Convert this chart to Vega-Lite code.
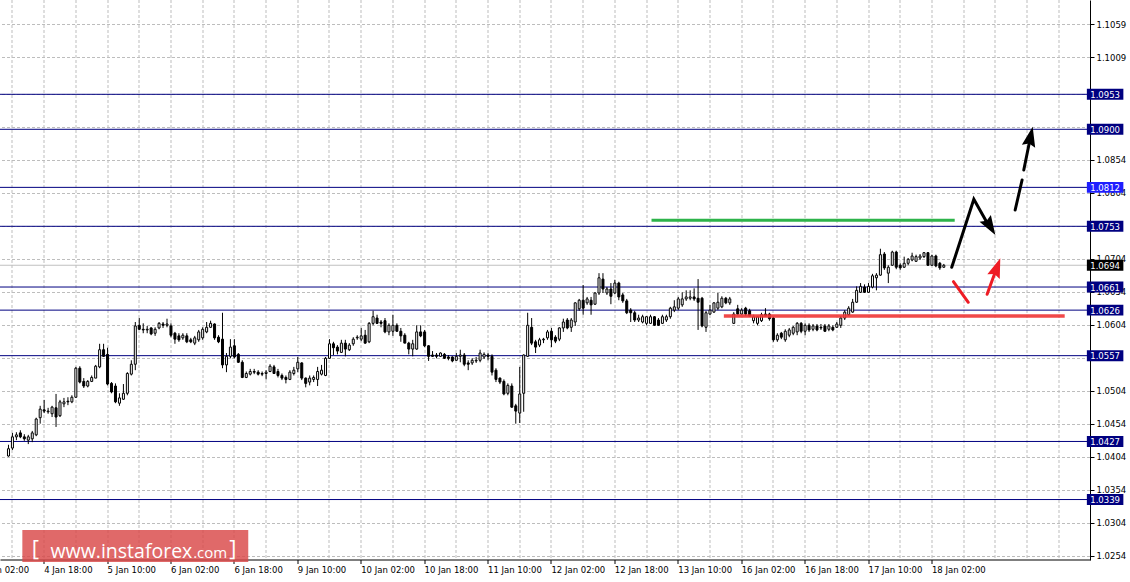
{
"$schema": "https://vega.github.io/schema/vega-lite/v6.json",
"width": 1090, "height": 560,
"autosize": "none",
"padding": {"left": 0, "top": 0, "right": 40, "bottom": 22},
"background": "white",
"config": {"view": {"stroke": null}, "font": "DejaVu Sans",
"axisY": {"orient": "right", "title": null, "zindex": 0,
"format": ".4f", "grid": true, "gridDash": [3,2], "gridColor": "#BDBDBD", "gridOpacity": 1, "gridWidth": 1,
"domain": true, "domainColor": "#000000", "domainWidth": 1,
"ticks": true, "tickColor": "#000000", "tickSize": 4,
"labelFont": "DejaVu Sans", "labelFontSize": 8.5, "labelColor": "#000000", "labelAlign": "left", "labelBaseline": "middle",
"labelPadding": 2, "labelFlush": false, "labelOverlap": false}},
"datasets": {
"candles": [
{"i":-9,"o":1.0405,"h":1.0422,"l":1.0404,"c":1.0416},
{"i":-8,"o":1.0417,"h":1.0440,"l":1.0414,"c":1.0434},
{"i":-7,"o":1.0434,"h":1.0441,"l":1.0429,"c":1.0437},
{"i":-6,"o":1.0440,"h":1.0444,"l":1.0432,"c":1.0434},
{"i":-5,"o":1.0434,"h":1.0438,"l":1.0428,"c":1.0431},
{"i":-4,"o":1.0429,"h":1.0437,"l":1.0423,"c":1.0434},
{"i":-3,"o":1.0431,"h":1.0443,"l":1.0426,"c":1.0440},
{"i":-2,"o":1.0437,"h":1.0463,"l":1.0435,"c":1.0461},
{"i":-1,"o":1.0463,"h":1.0481,"l":1.0454,"c":1.0476},
{"i":0,"o":1.0475,"h":1.0490,"l":1.0470,"c":1.0473},
{"i":1,"o":1.0472,"h":1.0478,"l":1.0469,"c":1.0473},
{"i":2,"o":1.0469,"h":1.0481,"l":1.0464,"c":1.0479},
{"i":3,"o":1.0478,"h":1.0499,"l":1.0449,"c":1.0464},
{"i":4,"o":1.0466,"h":1.0490,"l":1.0464,"c":1.0487},
{"i":5,"o":1.0484,"h":1.0493,"l":1.0479,"c":1.0487},
{"i":6,"o":1.0488,"h":1.0494,"l":1.0482,"c":1.0487},
{"i":7,"o":1.0487,"h":1.0497,"l":1.0485,"c":1.0494},
{"i":8,"o":1.0494,"h":1.0540,"l":1.0493,"c":1.0538},
{"i":9,"o":1.0538,"h":1.0541,"l":1.0515,"c":1.0517},
{"i":10,"o":1.0518,"h":1.0523,"l":1.0508,"c":1.0511},
{"i":11,"o":1.0511,"h":1.0520,"l":1.0509,"c":1.0518},
{"i":12,"o":1.0518,"h":1.0527,"l":1.0517,"c":1.0524},
{"i":13,"o":1.0523,"h":1.0543,"l":1.0523,"c":1.0541},
{"i":14,"o":1.0540,"h":1.0575,"l":1.0538,"c":1.0566},
{"i":15,"o":1.0566,"h":1.0575,"l":1.0555,"c":1.0556},
{"i":16,"o":1.0559,"h":1.0569,"l":1.0512,"c":1.0514},
{"i":17,"o":1.0515,"h":1.0517,"l":1.0500,"c":1.0502},
{"i":18,"o":1.0511,"h":1.0515,"l":1.0485,"c":1.0487},
{"i":19,"o":1.0485,"h":1.0500,"l":1.0481,"c":1.0493},
{"i":20,"o":1.0491,"h":1.0514,"l":1.0490,"c":1.0500},
{"i":21,"o":1.0500,"h":1.0532,"l":1.0497,"c":1.0530},
{"i":22,"o":1.0529,"h":1.0550,"l":1.0527,"c":1.0544},
{"i":23,"o":1.0544,"h":1.0608,"l":1.0535,"c":1.0602},
{"i":24,"o":1.0603,"h":1.0614,"l":1.0596,"c":1.0597},
{"i":25,"o":1.0597,"h":1.0606,"l":1.0591,"c":1.0596},
{"i":26,"o":1.0596,"h":1.0602,"l":1.0591,"c":1.0597},
{"i":27,"o":1.0599,"h":1.0600,"l":1.0588,"c":1.0590},
{"i":28,"o":1.0591,"h":1.0600,"l":1.0587,"c":1.0597},
{"i":29,"o":1.0599,"h":1.0608,"l":1.0597,"c":1.0606},
{"i":30,"o":1.0605,"h":1.0608,"l":1.0599,"c":1.0603},
{"i":31,"o":1.0603,"h":1.0613,"l":1.0600,"c":1.0605},
{"i":32,"o":1.0602,"h":1.0606,"l":1.0585,"c":1.0588},
{"i":33,"o":1.0591,"h":1.0593,"l":1.0575,"c":1.0582},
{"i":34,"o":1.0587,"h":1.0591,"l":1.0578,"c":1.0581},
{"i":35,"o":1.0584,"h":1.0591,"l":1.0581,"c":1.0588},
{"i":36,"o":1.0587,"h":1.0591,"l":1.0576,"c":1.0578},
{"i":37,"o":1.0581,"h":1.0584,"l":1.0576,"c":1.0578},
{"i":38,"o":1.0576,"h":1.0587,"l":1.0573,"c":1.0584},
{"i":39,"o":1.0581,"h":1.0596,"l":1.0578,"c":1.0593},
{"i":40,"o":1.0584,"h":1.0600,"l":1.0581,"c":1.0597},
{"i":41,"o":1.0593,"h":1.0608,"l":1.0591,"c":1.0600},
{"i":42,"o":1.0600,"h":1.0610,"l":1.0599,"c":1.0606},
{"i":43,"o":1.0605,"h":1.0606,"l":1.0581,"c":1.0584},
{"i":44,"o":1.0585,"h":1.0588,"l":1.0576,"c":1.0578},
{"i":45,"o":1.0582,"h":1.0622,"l":1.0538,"c":1.0543},
{"i":46,"o":1.0543,"h":1.0561,"l":1.0532,"c":1.0556},
{"i":47,"o":1.0556,"h":1.0582,"l":1.0553,"c":1.0570},
{"i":48,"o":1.0572,"h":1.0582,"l":1.0553,"c":1.0555},
{"i":49,"o":1.0559,"h":1.0561,"l":1.0546,"c":1.0547},
{"i":50,"o":1.0547,"h":1.0550,"l":1.0523,"c":1.0524},
{"i":51,"o":1.0524,"h":1.0533,"l":1.0523,"c":1.0530},
{"i":52,"o":1.0529,"h":1.0537,"l":1.0527,"c":1.0533},
{"i":53,"o":1.0533,"h":1.0537,"l":1.0529,"c":1.0532},
{"i":54,"o":1.0532,"h":1.0535,"l":1.0527,"c":1.0529},
{"i":55,"o":1.0530,"h":1.0533,"l":1.0526,"c":1.0529},
{"i":56,"o":1.0530,"h":1.0535,"l":1.0521,"c":1.0532},
{"i":57,"o":1.0533,"h":1.0544,"l":1.0532,"c":1.0541},
{"i":58,"o":1.0540,"h":1.0543,"l":1.0530,"c":1.0530},
{"i":59,"o":1.0533,"h":1.0537,"l":1.0524,"c":1.0527},
{"i":60,"o":1.0527,"h":1.0530,"l":1.0520,"c":1.0523},
{"i":61,"o":1.0524,"h":1.0527,"l":1.0515,"c":1.0521},
{"i":62,"o":1.0521,"h":1.0535,"l":1.0520,"c":1.0532},
{"i":63,"o":1.0530,"h":1.0540,"l":1.0527,"c":1.0535},
{"i":64,"o":1.0537,"h":1.0555,"l":1.0532,"c":1.0547},
{"i":65,"o":1.0546,"h":1.0547,"l":1.0520,"c":1.0523},
{"i":66,"o":1.0523,"h":1.0524,"l":1.0509,"c":1.0515},
{"i":67,"o":1.0517,"h":1.0527,"l":1.0512,"c":1.0523},
{"i":68,"o":1.0521,"h":1.0527,"l":1.0517,"c":1.0524},
{"i":69,"o":1.0521,"h":1.0540,"l":1.0511,"c":1.0533},
{"i":70,"o":1.0529,"h":1.0543,"l":1.0527,"c":1.0535},
{"i":71,"o":1.0527,"h":1.0555,"l":1.0526,"c":1.0553},
{"i":72,"o":1.0553,"h":1.0582,"l":1.0552,"c":1.0575},
{"i":73,"o":1.0575,"h":1.0578,"l":1.0558,"c":1.0569},
{"i":74,"o":1.0570,"h":1.0573,"l":1.0559,"c":1.0564},
{"i":75,"o":1.0562,"h":1.0581,"l":1.0561,"c":1.0576},
{"i":76,"o":1.0576,"h":1.0581,"l":1.0556,"c":1.0567},
{"i":77,"o":1.0566,"h":1.0576,"l":1.0564,"c":1.0573},
{"i":78,"o":1.0575,"h":1.0585,"l":1.0572,"c":1.0582},
{"i":79,"o":1.0584,"h":1.0588,"l":1.0581,"c":1.0585},
{"i":80,"o":1.0582,"h":1.0599,"l":1.0579,"c":1.0587},
{"i":81,"o":1.0588,"h":1.0596,"l":1.0575,"c":1.0576},
{"i":82,"o":1.0578,"h":1.0608,"l":1.0576,"c":1.0606},
{"i":83,"o":1.0606,"h":1.0625,"l":1.0603,"c":1.0616},
{"i":84,"o":1.0614,"h":1.0619,"l":1.0605,"c":1.0606},
{"i":85,"o":1.0608,"h":1.0611,"l":1.0600,"c":1.0606},
{"i":86,"o":1.0610,"h":1.0614,"l":1.0591,"c":1.0593},
{"i":87,"o":1.0593,"h":1.0606,"l":1.0588,"c":1.0603},
{"i":88,"o":1.0594,"h":1.0619,"l":1.0587,"c":1.0603},
{"i":89,"o":1.0603,"h":1.0606,"l":1.0593,"c":1.0594},
{"i":90,"o":1.0594,"h":1.0599,"l":1.0578,"c":1.0587},
{"i":91,"o":1.0588,"h":1.0591,"l":1.0576,"c":1.0576},
{"i":92,"o":1.0576,"h":1.0578,"l":1.0559,"c":1.0567},
{"i":93,"o":1.0567,"h":1.0581,"l":1.0556,"c":1.0575},
{"i":94,"o":1.0567,"h":1.0603,"l":1.0566,"c":1.0593},
{"i":95,"o":1.0593,"h":1.0603,"l":1.0585,"c":1.0587},
{"i":96,"o":1.0593,"h":1.0596,"l":1.0570,"c":1.0572},
{"i":97,"o":1.0572,"h":1.0573,"l":1.0549,"c":1.0556},
{"i":98,"o":1.0558,"h":1.0564,"l":1.0555,"c":1.0556},
{"i":99,"o":1.0558,"h":1.0561,"l":1.0553,"c":1.0556},
{"i":100,"o":1.0556,"h":1.0562,"l":1.0555,"c":1.0561},
{"i":101,"o":1.0559,"h":1.0561,"l":1.0552,"c":1.0553},
{"i":102,"o":1.0555,"h":1.0558,"l":1.0550,"c":1.0553},
{"i":103,"o":1.0555,"h":1.0556,"l":1.0547,"c":1.0549},
{"i":104,"o":1.0550,"h":1.0561,"l":1.0549,"c":1.0556},
{"i":105,"o":1.0556,"h":1.0566,"l":1.0547,"c":1.0558},
{"i":106,"o":1.0558,"h":1.0561,"l":1.0541,"c":1.0544},
{"i":107,"o":1.0546,"h":1.0550,"l":1.0535,"c":1.0544},
{"i":108,"o":1.0546,"h":1.0553,"l":1.0543,"c":1.0550},
{"i":109,"o":1.0549,"h":1.0555,"l":1.0546,"c":1.0550},
{"i":110,"o":1.0550,"h":1.0566,"l":1.0547,"c":1.0561},
{"i":111,"o":1.0555,"h":1.0562,"l":1.0552,"c":1.0559},
{"i":112,"o":1.0558,"h":1.0561,"l":1.0550,"c":1.0556},
{"i":113,"o":1.0556,"h":1.0559,"l":1.0527,"c":1.0532},
{"i":114,"o":1.0535,"h":1.0538,"l":1.0517,"c":1.0521},
{"i":115,"o":1.0523,"h":1.0524,"l":1.0514,"c":1.0517},
{"i":116,"o":1.0518,"h":1.0521,"l":1.0497,"c":1.0499},
{"i":117,"o":1.0500,"h":1.0515,"l":1.0497,"c":1.0512},
{"i":118,"o":1.0511,"h":1.0515,"l":1.0478,"c":1.0479},
{"i":119,"o":1.0481,"h":1.0484,"l":1.0454,"c":1.0473},
{"i":120,"o":1.0470,"h":1.0540,"l":1.0455,"c":1.0499},
{"i":121,"o":1.0500,"h":1.0559,"l":1.0472,"c":1.0558},
{"i":122,"o":1.0556,"h":1.0622,"l":1.0555,"c":1.0603},
{"i":123,"o":1.0600,"h":1.0614,"l":1.0573,"c":1.0576},
{"i":124,"o":1.0578,"h":1.0581,"l":1.0561,"c":1.0570},
{"i":125,"o":1.0573,"h":1.0584,"l":1.0570,"c":1.0581},
{"i":126,"o":1.0581,"h":1.0584,"l":1.0576,"c":1.0582},
{"i":127,"o":1.0584,"h":1.0596,"l":1.0581,"c":1.0593},
{"i":128,"o":1.0594,"h":1.0599,"l":1.0570,"c":1.0581},
{"i":129,"o":1.0585,"h":1.0588,"l":1.0576,"c":1.0579},
{"i":130,"o":1.0582,"h":1.0600,"l":1.0579,"c":1.0599},
{"i":131,"o":1.0599,"h":1.0613,"l":1.0593,"c":1.0608},
{"i":132,"o":1.0611,"h":1.0614,"l":1.0597,"c":1.0599},
{"i":133,"o":1.0600,"h":1.0614,"l":1.0593,"c":1.0611},
{"i":134,"o":1.0608,"h":1.0638,"l":1.0602,"c":1.0637},
{"i":135,"o":1.0628,"h":1.0643,"l":1.0625,"c":1.0641},
{"i":136,"o":1.0641,"h":1.0664,"l":1.0619,"c":1.0629},
{"i":137,"o":1.0637,"h":1.0646,"l":1.0634,"c":1.0643},
{"i":138,"o":1.0641,"h":1.0646,"l":1.0619,"c":1.0634},
{"i":139,"o":1.0635,"h":1.0653,"l":1.0634,"c":1.0652},
{"i":140,"o":1.0652,"h":1.0682,"l":1.0649,"c":1.0675},
{"i":141,"o":1.0673,"h":1.0682,"l":1.0652,"c":1.0658},
{"i":142,"o":1.0652,"h":1.0661,"l":1.0649,"c":1.0658},
{"i":143,"o":1.0658,"h":1.0667,"l":1.0635,"c":1.0647},
{"i":144,"o":1.0652,"h":1.0672,"l":1.0650,"c":1.0667},
{"i":145,"o":1.0667,"h":1.0669,"l":1.0641,"c":1.0646},
{"i":146,"o":1.0649,"h":1.0652,"l":1.0637,"c":1.0640},
{"i":147,"o":1.0640,"h":1.0643,"l":1.0620,"c":1.0622},
{"i":148,"o":1.0626,"h":1.0629,"l":1.0608,"c":1.0622},
{"i":149,"o":1.0622,"h":1.0625,"l":1.0608,"c":1.0611},
{"i":150,"o":1.0611,"h":1.0619,"l":1.0608,"c":1.0614},
{"i":151,"o":1.0608,"h":1.0619,"l":1.0606,"c":1.0616},
{"i":152,"o":1.0606,"h":1.0617,"l":1.0603,"c":1.0616},
{"i":153,"o":1.0606,"h":1.0619,"l":1.0605,"c":1.0616},
{"i":154,"o":1.0616,"h":1.0617,"l":1.0602,"c":1.0603},
{"i":155,"o":1.0611,"h":1.0614,"l":1.0602,"c":1.0603},
{"i":156,"o":1.0606,"h":1.0619,"l":1.0605,"c":1.0616},
{"i":157,"o":1.0611,"h":1.0619,"l":1.0608,"c":1.0616},
{"i":158,"o":1.0616,"h":1.0631,"l":1.0613,"c":1.0629},
{"i":159,"o":1.0626,"h":1.0641,"l":1.0623,"c":1.0631},
{"i":160,"o":1.0629,"h":1.0646,"l":1.0626,"c":1.0643},
{"i":161,"o":1.0634,"h":1.0653,"l":1.0631,"c":1.0643},
{"i":162,"o":1.0643,"h":1.0656,"l":1.0640,"c":1.0646},
{"i":163,"o":1.0644,"h":1.0656,"l":1.0641,"c":1.0646},
{"i":164,"o":1.0646,"h":1.0659,"l":1.0640,"c":1.0643},
{"i":165,"o":1.0644,"h":1.0673,"l":1.0596,"c":1.0638},
{"i":166,"o":1.0644,"h":1.0646,"l":1.0600,"c":1.0602},
{"i":167,"o":1.0600,"h":1.0625,"l":1.0593,"c":1.0622},
{"i":168,"o":1.0620,"h":1.0634,"l":1.0619,"c":1.0626},
{"i":169,"o":1.0623,"h":1.0638,"l":1.0622,"c":1.0637},
{"i":170,"o":1.0629,"h":1.0652,"l":1.0626,"c":1.0638},
{"i":171,"o":1.0631,"h":1.0647,"l":1.0629,"c":1.0644},
{"i":172,"o":1.0644,"h":1.0646,"l":1.0635,"c":1.0637},
{"i":173,"o":1.0637,"h":1.0646,"l":1.0634,"c":1.0643},
{"i":174,"o":1.0606,"h":1.0623,"l":1.0605,"c":1.0620},
{"i":175,"o":1.0628,"h":1.0634,"l":1.0619,"c":1.0620},
{"i":176,"o":1.0620,"h":1.0629,"l":1.0619,"c":1.0626},
{"i":177,"o":1.0629,"h":1.0631,"l":1.0617,"c":1.0620},
{"i":178,"o":1.0625,"h":1.0628,"l":1.0616,"c":1.0617},
{"i":179,"o":1.0610,"h":1.0619,"l":1.0606,"c":1.0616},
{"i":180,"o":1.0606,"h":1.0617,"l":1.0603,"c":1.0616},
{"i":181,"o":1.0610,"h":1.0622,"l":1.0608,"c":1.0619},
{"i":182,"o":1.0620,"h":1.0629,"l":1.0616,"c":1.0617},
{"i":183,"o":1.0620,"h":1.0622,"l":1.0610,"c":1.0613},
{"i":184,"o":1.0614,"h":1.0616,"l":1.0578,"c":1.0581},
{"i":185,"o":1.0581,"h":1.0591,"l":1.0578,"c":1.0588},
{"i":186,"o":1.0591,"h":1.0593,"l":1.0582,"c":1.0585},
{"i":187,"o":1.0581,"h":1.0597,"l":1.0578,"c":1.0594},
{"i":188,"o":1.0588,"h":1.0599,"l":1.0585,"c":1.0596},
{"i":189,"o":1.0591,"h":1.0602,"l":1.0588,"c":1.0600},
{"i":190,"o":1.0593,"h":1.0608,"l":1.0588,"c":1.0606},
{"i":191,"o":1.0606,"h":1.0608,"l":1.0591,"c":1.0594},
{"i":192,"o":1.0594,"h":1.0606,"l":1.0588,"c":1.0603},
{"i":193,"o":1.0603,"h":1.0606,"l":1.0593,"c":1.0596},
{"i":194,"o":1.0597,"h":1.0605,"l":1.0594,"c":1.0602},
{"i":195,"o":1.0602,"h":1.0605,"l":1.0594,"c":1.0596},
{"i":196,"o":1.0600,"h":1.0605,"l":1.0596,"c":1.0599},
{"i":197,"o":1.0602,"h":1.0605,"l":1.0593,"c":1.0594},
{"i":198,"o":1.0597,"h":1.0605,"l":1.0594,"c":1.0602},
{"i":199,"o":1.0600,"h":1.0603,"l":1.0594,"c":1.0596},
{"i":200,"o":1.0600,"h":1.0608,"l":1.0599,"c":1.0605},
{"i":201,"o":1.0603,"h":1.0617,"l":1.0599,"c":1.0614},
{"i":202,"o":1.0614,"h":1.0626,"l":1.0611,"c":1.0623},
{"i":203,"o":1.0619,"h":1.0632,"l":1.0617,"c":1.0629},
{"i":204,"o":1.0623,"h":1.0643,"l":1.0622,"c":1.0638},
{"i":205,"o":1.0638,"h":1.0662,"l":1.0637,"c":1.0656},
{"i":206,"o":1.0653,"h":1.0667,"l":1.0652,"c":1.0662},
{"i":207,"o":1.0661,"h":1.0665,"l":1.0652,"c":1.0653},
{"i":208,"o":1.0653,"h":1.0667,"l":1.0652,"c":1.0662},
{"i":209,"o":1.0661,"h":1.0681,"l":1.0659,"c":1.0678},
{"i":210,"o":1.0675,"h":1.0682,"l":1.0656,"c":1.0679},
{"i":211,"o":1.0679,"h":1.0719,"l":1.0678,"c":1.0710},
{"i":212,"o":1.0711,"h":1.0714,"l":1.0687,"c":1.0690},
{"i":213,"o":1.0682,"h":1.0694,"l":1.0667,"c":1.0691},
{"i":214,"o":1.0694,"h":1.0716,"l":1.0693,"c":1.0714},
{"i":215,"o":1.0714,"h":1.0716,"l":1.0688,"c":1.0691},
{"i":216,"o":1.0694,"h":1.0697,"l":1.0687,"c":1.0690},
{"i":217,"o":1.0691,"h":1.0707,"l":1.0690,"c":1.0697},
{"i":218,"o":1.0697,"h":1.0705,"l":1.0694,"c":1.0703},
{"i":219,"o":1.0702,"h":1.0713,"l":1.0700,"c":1.0708},
{"i":220,"o":1.0700,"h":1.0710,"l":1.0699,"c":1.0707},
{"i":221,"o":1.0705,"h":1.0711,"l":1.0702,"c":1.0708},
{"i":222,"o":1.0707,"h":1.0714,"l":1.0705,"c":1.0713},
{"i":223,"o":1.0713,"h":1.0714,"l":1.0693,"c":1.0694},
{"i":224,"o":1.0694,"h":1.0710,"l":1.0693,"c":1.0708},
{"i":225,"o":1.0708,"h":1.0710,"l":1.0691,"c":1.0693},
{"i":226,"o":1.0697,"h":1.0699,"l":1.0687,"c":1.0690},
{"i":227,"o":1.0691,"h":1.0696,"l":1.0690,"c":1.0694}
],
"levels": [{"p":1.0953},{"p":1.0900},{"p":1.0812},{"p":1.0753},{"p":1.0661},{"p":1.0626},{"p":1.0557},{"p":1.0427},{"p":1.0339}],
"tags": [{"p":1.0953},{"p":1.0900},{"p":1.0812},{"p":1.0753},{"p":1.0694},{"p":1.0661},{"p":1.0626},{"p":1.0557},{"p":1.0427},{"p":1.0339}],
"blackArrow": [
{"seg":"b1","k":0,"i":229.0,"p":1.06909},
{"seg":"b1","k":1,"i":234.575,"p":1.07939},
{"seg":"b1","k":2,"i":238.7,"p":1.07501},
{"seg":"b2a","k":0,"i":245.0,"p":1.07777},
{"seg":"b2a","k":1,"i":246.75,"p":1.08232},
{"seg":"b2b","k":0,"i":247.175,"p":1.08383},
{"seg":"b2b","k":1,"i":249.0,"p":1.08921}
],
"redArrow": [
{"seg":"r1","k":0,"i":229.425,"p":1.06691},
{"seg":"r1","k":1,"i":233.175,"p":1.06379},
{"seg":"r2","k":0,"i":237.925,"p":1.06500},
{"seg":"r2","k":1,"i":240.55,"p":1.06932}
]
},
"resolve": {"axis": {"x": "independent"}},
"layer": [
{
"data": {"name": "levels"},
"mark": {"type": "rule", "color": "#000080", "strokeWidth": 1},
"encoding": {
"y": {"field": "p", "type": "quantitative", "title": null,
"scale": {"domain": [1.02474, 1.10959], "nice": false, "zero": false},
"axis": {"orient": "right", "title": null, "zindex": 0, "tickCount": 200,
"values": [1.0254,1.0304,1.0354,1.0404,1.0454,1.0504,1.0554,1.0604,1.0654,1.0704,1.0754,1.0804,1.0854,1.0904,1.0954,1.1009,1.1059],
"format": ".4f",
"labelExpr": "(datum.label == '1.0554' || datum.label == '1.0754' || datum.label == '1.0904' || datum.label == '1.0954') ? '' : datum.label",
"labelOverlap": false, "labelFlush": false, "labelBound": false,
"labelFont": "DejaVu Sans", "labelFontSize": 8.5, "labelColor": "#000000", "labelAlign": "left", "labelBaseline": "middle", "labelPadding": 2,
"grid": true, "gridDash": [3,2], "gridColor": "#BDBDBD", "gridOpacity": 1,
"domain": true, "domainColor": "#000000", "ticks": true, "tickColor": "#000000", "tickSize": 4}}
}
},
{
"data": {"values": [{"p": 1.0694}]},
"mark": {"type": "rule", "color": "#C0C0C0", "strokeWidth": 1},
"encoding": {"y": {"field": "p", "type": "quantitative", "title": null, "scale": {"domain": [1.02474, 1.10959], "nice": false, "zero": false}}}
},
{
"data": {"name": "candles"},
"mark": {"type": "rule", "color": "#000000", "strokeWidth": 1},
"encoding": {
"x": {"field": "i", "type": "quantitative",
"scale": {"domain": [-9.75, 262.75], "range": [0.5, 1090.5], "nice": false, "zero": false},
"axis": {"orient": "bottom", "title": null, "zindex": 0, "tickCount": 200,
"values": [-8,0,8,16,24,32,40,48,56,64,72,80,88,96,104,112,120,128,136,144,152,160,168,176,184,192,200,208,216,224,232,240,248,256],
"grid": true, "gridDash": [3,2], "gridColor": "#BDBDBD", "gridOpacity": 1, "labels": false, "ticks": false, "domain": false, "translate": 0}},
"y": {"field": "l", "type": "quantitative", "title": null, "scale": {"domain": [1.02474, 1.10959], "nice": false, "zero": false}},
"y2": {"field": "h"}
}
},
{
"data": {"name": "candles"},
"mark": {"type": "bar", "width": 2, "stroke": "#000000", "strokeWidth": 1},
"encoding": {
"x": {"field": "i", "type": "quantitative",
"scale": {"domain": [-9.75, 262.75], "range": [0.5, 1090.5], "nice": false, "zero": false},
"axis": {"orient": "bottom", "title": null, "zindex": 0, "tickCount": 200,
"values": [0,16,32,48,64,80,96,112,128,144,160,176,192,208,224],
"labelExpr": "['4 Jan 18:00','5 Jan 10:00','6 Jan 02:00','6 Jan 18:00','9 Jan 10:00','10 Jan 02:00','10 Jan 18:00','11 Jan 10:00','12 Jan 02:00','12 Jan 18:00','13 Jan 10:00','16 Jan 02:00','16 Jan 18:00','17 Jan 10:00','18 Jan 02:00'][round(datum.value/16)]",
"grid": false, "domain": true, "domainColor": "#000000", "ticks": true, "tickColor": "#000000", "tickSize": 4,
"labelFont": "DejaVu Sans", "labelFontSize": 8.5, "labelColor": "#000000", "labelAlign": "left", "labelBaseline": "top",
"labelPadding": 2, "labelFlush": false, "labelOverlap": false, "translate": 0}},
"y": {"field": "o", "type": "quantitative", "title": null, "scale": {"domain": [1.02474, 1.10959], "nice": false, "zero": false}},
"y2": {"field": "c"},
"fill": {"condition": {"test": "datum.c >= datum.o", "value": "#FFFFFF"}, "value": "#000000"}
}
},
{
"data": {"values": [{"a": 153.25, "b": 229.75, "p": 1.0762}]},
"mark": {"type": "rule", "color": "#2DB34A", "strokeWidth": 3},
"encoding": {
"x": {"field": "a", "type": "quantitative", "scale": {"domain": [-9.75, 262.75], "range": [0.5, 1090.5], "nice": false, "zero": false}, "axis": null},
"x2": {"field": "b"},
"y": {"field": "p", "type": "quantitative", "title": null, "scale": {"domain": [1.02474, 1.10959], "nice": false, "zero": false}}
}
},
{
"data": {"values": [{"a": 171.5, "b": 257.5, "p": 1.0617}]},
"mark": {"type": "rule", "color": "#F03A3A", "strokeWidth": 3.5, "opacity": 0.92},
"encoding": {
"x": {"field": "a", "type": "quantitative", "scale": {"domain": [-9.75, 262.75], "range": [0.5, 1090.5], "nice": false, "zero": false}, "axis": null},
"x2": {"field": "b"},
"y": {"field": "p", "type": "quantitative", "title": null, "scale": {"domain": [1.02474, 1.10959], "nice": false, "zero": false}}
}
},
{
"data": {"name": "blackArrow"},
"mark": {"type": "line", "color": "#000000", "strokeWidth": 3, "strokeCap": "round", "strokeJoin": "miter"},
"encoding": {
"x": {"field": "i", "type": "quantitative", "scale": {"domain": [-9.75, 262.75], "range": [0.5, 1090.5], "nice": false, "zero": false}, "axis": null},
"y": {"field": "p", "type": "quantitative", "title": null, "scale": {"domain": [1.02474, 1.10959], "nice": false, "zero": false}},
"detail": {"field": "seg"},
"order": {"field": "k"}
}
},
{
"data": {"name": "redArrow"},
"mark": {"type": "line", "color": "#EE1C25", "strokeWidth": 3, "strokeCap": "round"},
"encoding": {
"x": {"field": "i", "type": "quantitative", "scale": {"domain": [-9.75, 262.75], "range": [0.5, 1090.5], "nice": false, "zero": false}, "axis": null},
"y": {"field": "p", "type": "quantitative", "title": null, "scale": {"domain": [1.02474, 1.10959], "nice": false, "zero": false}},
"detail": {"field": "seg"},
"order": {"field": "k"}
}
},
{
"data": {"values": [{"i": 240.0, "p": 1.07398}]},
"mark": {"type": "point", "shape": "M0,0L0.34,1L0,0.86L-0.34,1Z", "size": 1521, "angle": 148.7, "filled": true, "color": "#000000", "opacity": 1, "strokeWidth": 0},
"encoding": {
"x": {"field": "i", "type": "quantitative", "scale": {"domain": [-9.75, 262.75], "range": [0.5, 1090.5], "nice": false, "zero": false}, "axis": null},
"y": {"field": "p", "type": "quantitative", "title": null, "scale": {"domain": [1.02474, 1.10959], "nice": false, "zero": false}}
}
},
{
"data": {"values": [{"i": 249.425, "p": 1.09039}]},
"mark": {"type": "point", "shape": "M0,0L0.34,1L0,0.86L-0.34,1Z", "size": 1600, "angle": 12, "filled": true, "color": "#000000", "opacity": 1, "strokeWidth": 0},
"encoding": {
"x": {"field": "i", "type": "quantitative", "scale": {"domain": [-9.75, 262.75], "range": [0.5, 1090.5], "nice": false, "zero": false}, "axis": null},
"y": {"field": "p", "type": "quantitative", "title": null, "scale": {"domain": [1.02474, 1.10959], "nice": false, "zero": false}}
}
},
{
"data": {"values": [{"i": 241.25, "p": 1.07045}]},
"mark": {"type": "point", "shape": "M0,0L0.34,1L0,0.86L-0.34,1Z", "size": 1521, "angle": 20.3, "filled": true, "color": "#EE1C25", "opacity": 1, "strokeWidth": 0},
"encoding": {
"x": {"field": "i", "type": "quantitative", "scale": {"domain": [-9.75, 262.75], "range": [0.5, 1090.5], "nice": false, "zero": false}, "axis": null},
"y": {"field": "p", "type": "quantitative", "title": null, "scale": {"domain": [1.02474, 1.10959], "nice": false, "zero": false}}
}
},
{
"data": {"values": [{"a": -5.5, "b": 51.5, "p1": 1.02928, "p2": 1.02444}]},
"mark": {"type": "rect", "color": "#D94848", "opacity": 0.82},
"encoding": {
"x": {"field": "a", "type": "quantitative", "scale": {"domain": [-9.75, 262.75], "range": [0.5, 1090.5], "nice": false, "zero": false}, "axis": null},
"x2": {"field": "b"},
"y": {"field": "p1", "type": "quantitative", "title": null, "scale": {"domain": [1.02474, 1.10959], "nice": false, "zero": false}},
"y2": {"field": "p2"}
}
},
{
"data": {"values": [{"t": "[", "i": -2.25, "p": 1.02530}, {"t": "]", "i": 47.6, "p": 1.02530}]},
"mark": {"type": "text", "font": "Open Sans", "fontSize": 22, "color": "#FFFFFF", "align": "center", "baseline": "alphabetic"},
"encoding": {
"x": {"field": "i", "type": "quantitative", "scale": {"domain": [-9.75, 262.75], "range": [0.5, 1090.5], "nice": false, "zero": false}, "axis": null},
"y": {"field": "p", "type": "quantitative", "title": null, "scale": {"domain": [1.02474, 1.10959], "nice": false, "zero": false}},
"text": {"field": "t"}
}
},
{
"data": {"values": [{"t": "www.instaforex", "i": 1.6, "p": 1.02509}]},
"mark": {"type": "text", "font": "Open Sans", "fontSize": 19.5, "color": "#FFFFFF", "align": "left", "baseline": "alphabetic"},
"encoding": {
"x": {"field": "i", "type": "quantitative", "scale": {"domain": [-9.75, 262.75], "range": [0.5, 1090.5], "nice": false, "zero": false}, "axis": null},
"y": {"field": "p", "type": "quantitative", "title": null, "scale": {"domain": [1.02474, 1.10959], "nice": false, "zero": false}},
"text": {"field": "t"}
}
},
{
"data": {"values": [{"t": ".com", "i": 37.6, "p": 1.02509}]},
"mark": {"type": "text", "font": "Open Sans", "fontSize": 15, "color": "#FFFFFF", "align": "left", "baseline": "alphabetic"},
"encoding": {
"x": {"field": "i", "type": "quantitative", "scale": {"domain": [-9.75, 262.75], "range": [0.5, 1090.5], "nice": false, "zero": false}, "axis": null},
"y": {"field": "p", "type": "quantitative", "title": null, "scale": {"domain": [1.02474, 1.10959], "nice": false, "zero": false}},
"text": {"field": "t"}
}
},
{
"data": {"values": [{"t": "4 Jan 02:00", "i": -16, "p": 1.02383}]},
"mark": {"type": "text", "font": "DejaVu Sans", "fontSize": 8.5, "color": "#000000", "align": "left", "baseline": "top"},
"encoding": {
"x": {"field": "i", "type": "quantitative", "scale": {"domain": [-9.75, 262.75], "range": [0.5, 1090.5], "nice": false, "zero": false}, "axis": null},
"y": {"field": "p", "type": "quantitative", "title": null, "scale": {"domain": [1.02474, 1.10959], "nice": false, "zero": false}},
"text": {"field": "t"}
}
},
{
"data": {"name": "tags"},
"mark": {"type": "point", "shape": "M-1,-0.3L1,-0.3L1,0.3L-1,0.3Z", "size": 1332, "filled": true, "opacity": 1, "strokeWidth": 0},
"encoding": {
"x": {"datum": 267.7, "type": "quantitative", "scale": {"domain": [-9.75, 262.75], "range": [0.5, 1090.5], "nice": false, "zero": false}, "axis": null},
"y": {"field": "p", "type": "quantitative", "title": null, "scale": {"domain": [1.02474, 1.10959], "nice": false, "zero": false}},
"color": {"condition": [{"test": "datum.p == 1.0694", "value": "#000000"}, {"test": "datum.p == 1.0812", "value": "#1E1EFF"}], "value": "#000080"}
}
},
{
"data": {"name": "tags"},
"mark": {"type": "text", "font": "DejaVu Sans", "fontSize": 8.5, "color": "#FFFFFF", "align": "center", "baseline": "middle", "dy": 0.5},
"encoding": {
"x": {"datum": 267.7, "type": "quantitative", "scale": {"domain": [-9.75, 262.75], "range": [0.5, 1090.5], "nice": false, "zero": false}, "axis": null},
"y": {"field": "p", "type": "quantitative", "title": null, "scale": {"domain": [1.02474, 1.10959], "nice": false, "zero": false}},
"text": {"field": "p", "type": "quantitative", "format": ".4f"}
}
}
]
}
